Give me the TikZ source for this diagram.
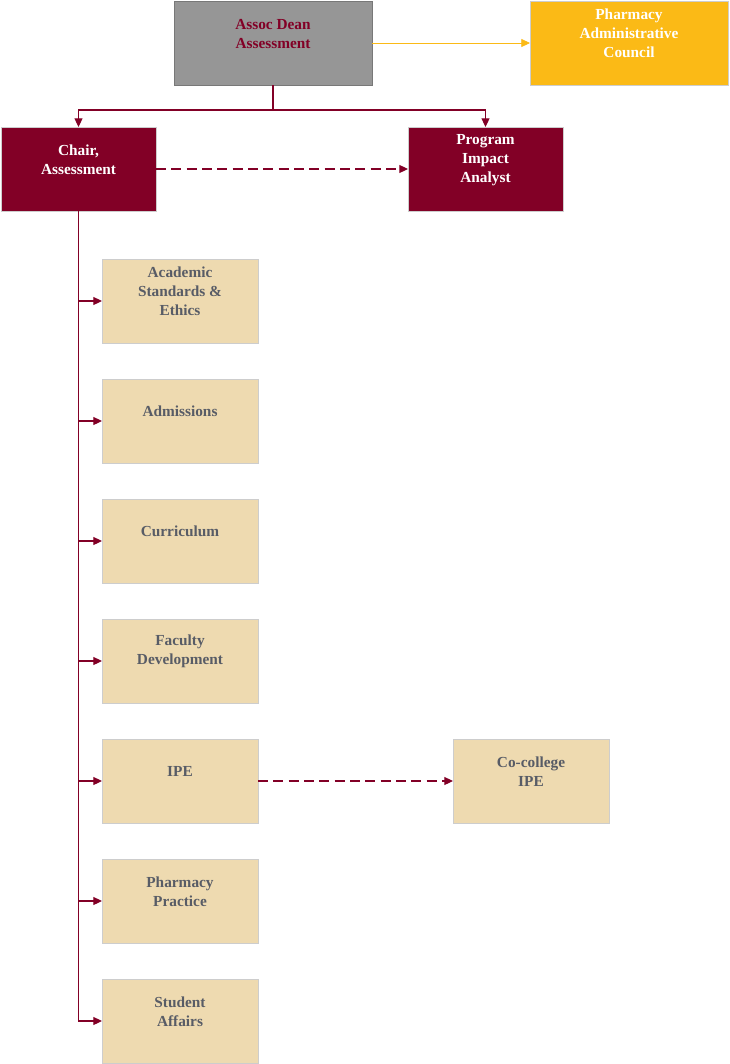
\documentclass[tikz,border=0pt]{standalone}
\usepackage{fontspec}
\setmainfont{Liberation Serif}
\usetikzlibrary{arrows.meta,positioning}
\definecolor{unitmaroon}{RGB}{130,0,38}
\definecolor{deangrey}{RGB}{150,150,150}
\definecolor{deanedge}{RGB}{120,120,120}
\definecolor{councilgold}{RGB}{251,186,22}
\definecolor{committeetan}{RGB}{238,218,176}
\definecolor{edgegrey}{RGB}{205,205,205}
\definecolor{textgrey}{RGB}{88,92,102}
\tikzset{
  unitbox/.style={rectangle,inner sep=0pt,outer sep=0pt,line width=0.75pt,
    minimum height=63pt},
  boxtext/.style={font=\fontsize{11.5}{14.25}\selectfont\bfseries,
    align=center,yshift=7pt},
  deanbox/.style={unitbox,draw=deanedge,fill=deangrey,minimum width=148.5pt,
    label={[boxtext,text=unitmaroon]center:#1}},
  councilbox/.style={unitbox,draw=edgegrey,fill=councilgold,minimum width=148.5pt,
    label={[boxtext,text=white]center:#1}},
  leadbox/.style={unitbox,draw=edgegrey,fill=unitmaroon,minimum width=116.25pt,
    label={[boxtext,text=white]center:#1}},
  committee/.style={unitbox,draw=edgegrey,fill=committeetan,minimum width=117pt,
    label={[boxtext,text=textgrey]center:#1}},
  flow/.style={-{Triangle[length=6.5pt,width=6pt]},line width=0.8pt,draw=unitmaroon},
  dotted flow/.style={flow,dash pattern=on 7.5pt off 4pt},
  goldflow/.style={-{Triangle[length=6.5pt,width=6pt]},line width=0.6pt,draw=councilgold}
}

\begin{document}
\begin{tikzpicture}[x=0.75pt,y=-0.75pt,node distance=27pt]
  \useasboundingbox (0,0) rectangle (730,1064);
  % top of the chart
  \node[deanbox={Assoc Dean\\Assessment}] (dean) at (273,43) {};
  \node[councilbox={Pharmacy\\Administrative\\Council},right=118.5pt of dean] (council) {};
  \node[leadbox={Chair,\\Assessment},below left=31.5pt and 13.5pt of dean] (chair) {};
  \node[leadbox={Program\\Impact\\Analyst},below right=31.5pt and 27pt of dean] (analyst) {};
  % committees
  \node[committee={Academic\\Standards \&\\Ethics}] (acad) at (180,301) {};
  \node[committee={Admissions},below=of acad] (adm) {};
  \node[committee={Curriculum},below=of adm] (curr) {};
  \node[committee={Faculty\\Development},below=of curr] (fac) {};
  \node[committee={IPE},below=of fac] (ipe) {};
  \node[committee={Pharmacy\\Practice},below=of ipe] (prac) {};
  \node[committee={Student\\Affairs},below=of prac] (stud) {};
  \node[committee={Co-college\\IPE},right=146.25pt of ipe] (cocoll) {};

  \draw[goldflow] (dean) -- (council);
  \draw[flow] (dean.south) -- ++(0,25) -| (chair.north);
  \draw[flow] (dean.south) -- ++(0,25) -| (analyst.north);
  \draw[dotted flow] (chair) -- (analyst);
  \foreach \c in {acad,adm,curr,fac,ipe,prac,stud}
    \draw[flow] (chair.south) |- (\c.west);
  \draw[dotted flow] (ipe) -- (cocoll);
\end{tikzpicture}
\end{document}
